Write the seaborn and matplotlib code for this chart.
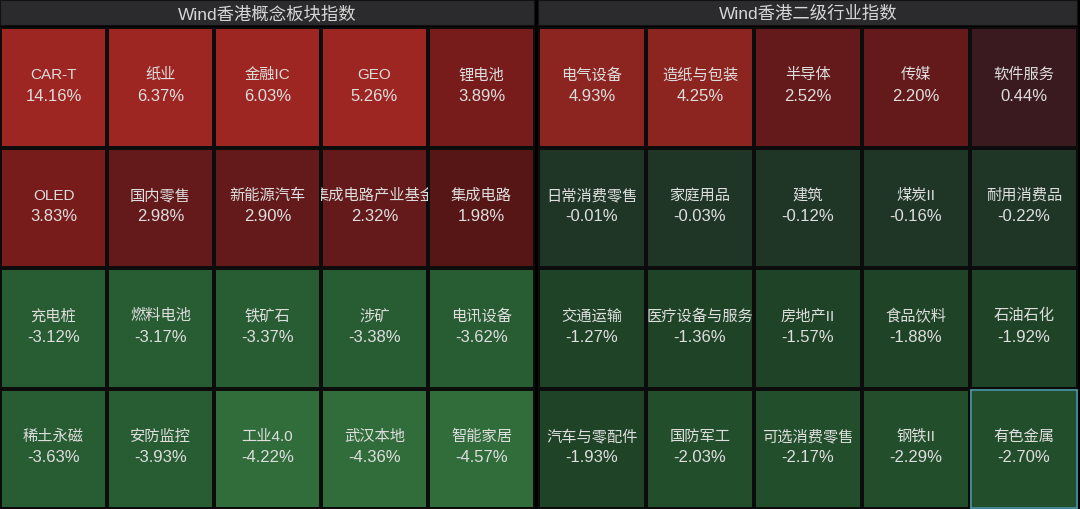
import numpy as np
import pandas as pd
import matplotlib
matplotlib.use("Agg")
import matplotlib.pyplot as plt
from matplotlib.colors import ListedColormap, BoundaryNorm
from matplotlib.patches import Rectangle
import seaborn as sns

# ---- data ----
concept_title = "Wind香港概念板块指数"
concept_names = [
    "CAR-T", "纸业", "金融IC", "GEO", "锂电池",
    "OLED", "国内零售", "新能源汽车", "集成电路产业基金", "集成电路",
    "充电桩", "燃料电池", "铁矿石", "涉矿", "电讯设备",
    "稀土永磁", "安防监控", "工业4.0", "武汉本地", "智能家居",
]
concept_pct = [
    14.16, 6.37, 6.03, 5.26, 3.89,
    3.83, 2.98, 2.90, 2.32, 1.98,
    -3.12, -3.17, -3.37, -3.38, -3.62,
    -3.63, -3.93, -4.22, -4.36, -4.57,
]

industry_title = "Wind香港二级行业指数"
industry_names = [
    "电气设备", "造纸与包装", "半导体", "传媒", "软件服务",
    "日常消费零售", "家庭用品", "建筑", "煤炭II", "耐用消费品",
    "交通运输", "医疗设备与服务", "房地产II", "食品饮料", "石油石化",
    "汽车与零配件", "国防军工", "可选消费零售", "钢铁II", "有色金属",
]
industry_pct = [
    4.93, 4.25, 2.52, 2.20, 0.44,
    -0.01, -0.03, -0.12, -0.16, -0.22,
    -1.27, -1.36, -1.57, -1.88, -1.92,
    -1.93, -2.03, -2.17, -2.29, -2.70,
]
selected_name = "有色金属"

N_ROWS, N_COLS = 4, 5

# ---- style ----
BG = "#000000"
TEXT = "#dedede"
bounds = [-100, -4, -3, -2, -1, 0, 1, 2, 3, 4, 5, 100]
colors = [
    "#316d3b", "#285c32", "#234e2c", "#1f4327", "#1f3627",
    "#3a1a1e", "#561616", "#641a1a", "#771b1b", "#8c2420", "#9e2622",
]
cmap = ListedColormap(colors)
norm = BoundaryNorm(bounds, cmap.N)

sns.set_theme(style="white")
plt.rcParams["font.family"] = ["Liberation Sans", "Noto Sans CJK SC", "DejaVu Sans"]

W, H = 1080, 509
fig = plt.figure(figsize=(W / 100, H / 100), dpi=100, facecolor=BG)

HEADER_H = 26


def px_rect(x0, y0, x1, y1):
    return [x0 / W, 1 - y1 / H, (x1 - x0) / W, (y1 - y0) / H]


def cell_text(ax, x, y, s, size, clip):
    t = ax.text(x, y, s, ha="center", va="center", color=TEXT, fontsize=size)
    t.set_clip_path(clip)
    t.set_clip_on(True)


def draw_panel(x0, x1, title, names, pct):
    # header bar
    hax = fig.add_axes(px_rect(x0, 0, x1, HEADER_H))
    hax.set_xlim(0, 1)
    hax.set_ylim(0, 1)
    hax.axis("off")
    hax.add_patch(Rectangle((0, 0), 1, 1, facecolor="#2b2b2d",
                            edgecolor="#111111", linewidth=1.5,
                            transform=hax.transAxes))
    hax.text(0.5, 0.48, title, ha="center", va="center",
             color="#d6d6d6", fontsize=12.5)

    ax = fig.add_axes(px_rect(x0, HEADER_H + 1, x1, H))
    vals = np.array(pct).reshape(N_ROWS, N_COLS)
    sns.heatmap(
        pd.DataFrame(vals), ax=ax, cmap=cmap, norm=norm, cbar=False,
        annot=False, linewidths=1.5, linecolor="#0c0c0c",
        xticklabels=False, yticklabels=False,
    )
    # name + change, clipped to the cell like the long name in the original
    for i, (n, p) in enumerate(zip(names, pct)):
        r, c = divmod(i, N_COLS)
        clip = Rectangle((c, r), 1, 1, transform=ax.transData)
        cell_text(ax, c + 0.5, r + 0.5 - 0.10, n, 11, clip)
        cell_text(ax, c + 0.5, r + 0.5 + 0.075, f"{p:.2f}%", 12, clip)
    return ax


ax_left = draw_panel(0, 535, concept_title, concept_names, concept_pct)
ax_right = draw_panel(538, 1078, industry_title, industry_names, industry_pct)

# highlighted cell
idx = industry_names.index(selected_name)
r, c = divmod(idx, N_COLS)
ax_right.add_patch(Rectangle((c + 0.01, r + 0.01), 0.98, 0.98, fill=False,
                             edgecolor="#4f9fb0", linewidth=1.2, zorder=5))

fig.savefig("out.png", dpi=100, facecolor=BG)
